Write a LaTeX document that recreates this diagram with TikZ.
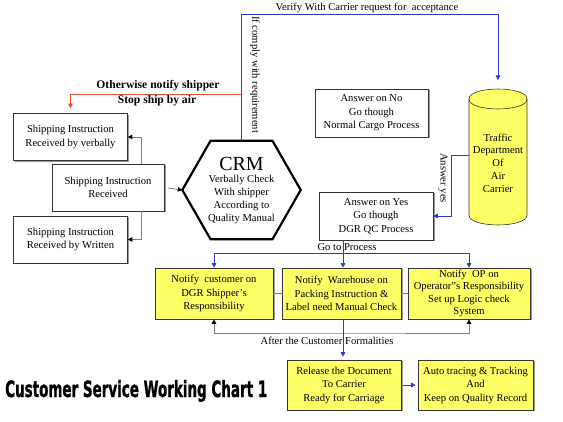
\documentclass[tikz,border=0pt]{standalone}
\usepackage{fontspec}
\setmainfont{Liberation Serif}
\newfontfamily\titlefont[FakeBold=1.5]{DejaVu Sans}
\usetikzlibrary{shadows,arrows.meta}
\definecolor{yfill}{HTML}{FFFF66}
\definecolor{bluel}{HTML}{3535D0}
\definecolor{redl}{HTML}{E0502A}
\begin{document}
\begin{tikzpicture}[x=1pt,y=-1pt,font=\fontsize{10.6}{13.5}\selectfont,
  box/.style={draw=black!80,fill=white,line width=0.6pt,align=center,inner sep=1pt,
    drop shadow={shadow xshift=1.5pt,shadow yshift=-1.5pt,fill=black!40,opacity=1}},
  ybox/.style={box,fill=yfill},
  gl/.style={draw=black!50,line width=0.8pt},
  bl/.style={draw=bluel,line width=0.7pt},
  rl/.style={draw=redl,line width=0.7pt},
  tip/.style={-{Triangle[length=4.5pt,width=4.5pt]}},
  ktip/.style={-{Triangle[length=4.5pt,width=4.5pt,black]}}]
\useasboundingbox (0,0) rectangle (563,422);

% left boxes
\node[box,minimum width=114pt,minimum height=47pt] (verb) at (70.5,137) {Shipping Instruction\\Received by verbally};
\node[box,minimum width=112pt,minimum height=47pt] (sir) at (108,187.5) {Shipping Instruction\\Received};
\node[box,minimum width=114pt,minimum height=47pt] (writ) at (70.5,239.5) {Shipping Instruction\\Received by Written};

% CRM hexagon
\node[minimum width=118pt,minimum height=98pt,inner sep=0pt,align=center] (crm) at (241.5,190) {};
\filldraw[fill=white,draw=black,line width=2.2pt,line join=miter]
  (crm.west) -- ([xshift=-31pt]crm.north) -- ([xshift=31pt]crm.north) -- (crm.east)
  -- ([xshift=31pt]crm.south) -- ([xshift=-31pt]crm.south) -- cycle;
\node[align=center,font=\fontsize{10.6}{13}\selectfont] (crmtext) at (241.5,191)
  {{\fontsize{20}{20}\selectfont CRM}\\[-1pt]Verbally Check\\With shipper\\According to\\Quality Manual};

% answer boxes
\node[box,minimum width=113pt,minimum height=48pt] (ansno) at (371.5,113) {Answer on No\\Go though\\Normal Cargo Process};
\node[box,minimum width=114pt,minimum height=48pt] (ansyes) at (376,216) {Answer on Yes\\Go though\\DGR QC Process};

% cylinder
\filldraw[fill=yfill,draw=black!80,line width=0.6pt]
  (469,99) -- (469,215) .. controls (469,228.3) and (527,228.3) .. (527,215)
  -- (527,99) .. controls (527,85.7) and (469,85.7) .. (469,99) -- cycle;
\draw[black!80,line width=0.6pt] (469,99) .. controls (469,112.3) and (527,112.3) .. (527,99);
\node[align=center,minimum width=58pt,minimum height=120pt,inner sep=0pt,font=\fontsize{10.6}{12.8}\selectfont] (tdac) at (498,163)
  {Traffic\\Department\\Of\\Air\\Carrier};
\coordinate (cyltop) at (498,80);

% yellow boxes
\node[ybox,minimum width=118pt,minimum height=51pt] (n1) at (214,293.5) {Notify\ \ customer on\\DGR Shipper's\\Responsibility};
\node[ybox,minimum width=119pt,minimum height=51pt] (n2) at (341.5,293.5) {Notify\ \ Warehouse on\\Packing Instruction \&\\Label need Manual Check};
\node[ybox,minimum width=122pt,minimum height=51pt,font=\fontsize{10.6}{12.3}\selectfont] (n3) at (469,293.5) {Notify\ \ OP on\\Operator"s Responsibility\\Set up Logic check\\System};
\node[ybox,minimum width=114pt,minimum height=50pt] (rel) at (344,385) {Release the Document\\To Carrier\\Ready for Carriage};
\node[ybox,minimum width=115pt,minimum height=50pt] (auto) at (475.5,385) {Auto tracing \& Tracking\\And\\Keep on Quality Record};

% title
\node[anchor=base west,inner sep=0pt] (title) at (5,397)
  {\resizebox{262pt}{17pt}{\titlefont\bfseries Customer Service Working Chart 1}};

% left connectors
\coordinate (lx) at (141,0);
\draw[gl,ktip] (sir.north -| lx) |- (verb.east);
\draw[gl,ktip] (sir.south -| lx) |- (writ.east);
\draw[gl,ktip,shorten <=4pt] (sir.east) -- (crm.west);

% blue verify line
\draw[bl,tip] (crm.north) -- (241.5,14) -| (cyltop);
\node[anchor=base] (verify) at (367,11) {Verify With Carrier request for\ \ acceptance};
\node[rotate=-90,anchor=west,inner sep=0pt] (comply) at (255,16) {If comply with requirement};

% red branch
\coordinate (rj) at (241.5,94);
\draw[rl,tip,shorten >=5pt] (rj) -| (verb.north);
\node[anchor=base,font=\fontsize{11.6}{12}\selectfont\bfseries] (oth) at (158,89) {Otherwise notify shipper};
\node[anchor=base,font=\fontsize{11.6}{12}\selectfont\bfseries] (stop) at (157,104) {Stop ship by air};

% answer yes
\coordinate (ay) at (451,155);
\draw[bl,tip] (ay -| tdac.west) -- (ay) |- (ansyes.east);
\node[rotate=-90,anchor=west,inner sep=0pt] (ayl) at (443,153) {Answer yes};

% go to process
\coordinate (gp) at (343,253);
\draw[bl,tip] (ansyes.south -| gp) -- (n2.north -| gp);
\draw[bl,tip] (gp) -| (n1.north);
\draw[bl,tip] (gp) -| (n3.north);
\node[anchor=base] (gpl) at (347,251) {Go to Process};

% between yellow boxes
\draw[gl] (n1.east) -- (n2.west);
\draw[gl] (n2.east) -- (n3.west);

% after formalities
\coordinate (fb) at (343,333);
\draw[gl,arrows={Triangle[length=4.5pt,width=4.5pt,black]-Triangle[length=4.5pt,width=4.5pt,black]}]
  (n1.south) |- (fb) -| (n3.south);
\draw[bl,tip,shorten >=3pt] (n2.south -| gp) -- (rel.north -| gp);
\node[anchor=base] (afl) at (327,345) {After the Customer Formalities};
\draw[bl,tip,shorten <=2pt,shorten >=2pt] (rel.east) -- (auto.west);
\end{tikzpicture}
\end{document}
